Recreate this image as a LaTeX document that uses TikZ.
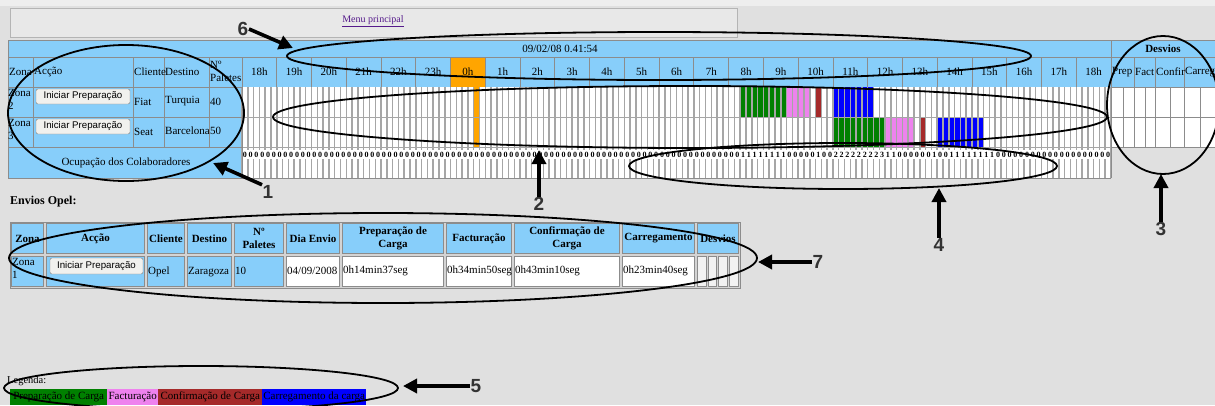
\documentclass[tikz,border=0pt]{standalone}
\usepackage{fontspec}
\setmainfont{Liberation Serif}
\setsansfont{Liberation Sans}
\usetikzlibrary{arrows.meta,shapes.geometric}
\definecolor{pagebg}{HTML}{E0E0E0}
\definecolor{topbg}{HTML}{EEEEEE}
\definecolor{menubg}{HTML}{E8E8E8}
\definecolor{menuline}{HTML}{B4B4B4}
\definecolor{linkpurple}{HTML}{551A8B}
\definecolor{cellblue}{HTML}{87CEFA}
\definecolor{hdrline}{HTML}{8C8C8C}
\definecolor{slotline}{HTML}{A6A6A6}
\definecolor{nowor}{HTML}{FFA500}
\definecolor{prepgreen}{HTML}{008000}
\definecolor{factpink}{HTML}{EE82EE}
\definecolor{confbrown}{HTML}{A52A2A}
\definecolor{carrblue}{HTML}{0000FF}
\definecolor{btnfill}{HTML}{F1F1EE}
\definecolor{btnline}{HTML}{7F7F7F}
\definecolor{numgray}{HTML}{333333}
\definecolor{tblgap}{HTML}{D4D4D4}
\definecolor{desvcell}{HTML}{F2F2F2}
\tikzset{
  txt/.style={inner sep=0pt, font=\fontsize{11}{13}\selectfont},
  txtw/.style={txt, anchor=west},
  hdrbold/.style={inner sep=0pt, font=\fontsize{11}{13}\selectfont\bfseries, align=center},
  btn/.style={draw=btnline, fill=btnfill, rounded corners=2pt, inner sep=0pt, minimum width=94pt, minimum height=15pt, font=\sffamily\fontsize{9.7}{10}\selectfont},
  digit/.style={inner sep=0pt, font=\fontsize{8}{8}\selectfont\bfseries},
  ann/.style={draw=black, line width=1.8pt, ellipse, inner sep=0pt},
  annarrow/.style={line width=3.6pt, -{Triangle[length=14pt,width=14pt]}},
  numlabel/.style={inner sep=0.5pt, text=numgray, font=\sffamily\bfseries\fontsize{19}{19}\selectfont},
  hline/.style={draw=hdrline, line width=0.8pt},
  sline/.style={draw=slotline, line width=1.5pt},
  legbox/.style={inner sep=0pt, minimum height=16pt, font=\fontsize{11}{13}\selectfont, anchor=north west},
  cellbox/.style={draw=hdrline, line width=0.6pt},
}
\begin{document}
\begin{tikzpicture}[x=1pt,y=-1pt]
\useasboundingbox (0,0) rectangle (1215,405);
\fill[topbg] (0,0) rectangle (1215,6);
\fill[pagebg] (0,6) rectangle (1215,405);
% menu
\draw[draw=menuline, fill=menubg, line width=1pt] (10,8) rectangle (737,37);
\node[txt, font=\fontsize{10}{12}\selectfont, text=linkpurple] (menu) at (373,21) {\underline{Menu principal}};
% main table fills
\fill[cellblue] (8,40) rectangle (1215,147);
\fill[cellblue] (8,147) rectangle (1111,178);
\fill[nowor] (450.56,57) rectangle (485.32,87);
\fill[white] (242,87) rectangle (1111,178);
\fill[white] (1111,87) rectangle (1215,147);
\foreach \a/\b/\c/\ya/\yb in {86/93/prepgreen/87/117, 94/97/factpink/87/117, 99/99/confbrown/87/117, 102/108/carrblue/87/117, 102/110/prepgreen/117/147, 111/115/factpink/117/147, 117/117/confbrown/117/147, 120/127/carrblue/117/147, 40/40/nowor/87/147}
  \fill[\c] ({242+\a*5.7933},\ya) rectangle ({242+(\b+1)*5.7933},\yb);
\foreach \i in {0,...,150}
  \draw[sline] ({242+\i*5.7933},87) -- ({242+\i*5.7933},178);
\draw[sline, line width=1pt] (242,117) -- (1111,117);
\draw[sline, line width=1pt] (242,147) -- (1111,147);
\fill[white] (243,150) rectangle (1110,159);
% header lines
\draw[hline] (8,40) -- (1215,40);
\draw[hline] (8,40) -- (8,178) -- (1111,178);
\draw[hline] (8,57) -- (1215,57);
\draw[hline] (8,87) -- (242,87);
\draw[hline] (1111,87) -- (1215,87);
\draw[hline] (8,117) -- (242,117);
\draw[hline] (1111,117) -- (1215,117);
\draw[hline] (8,147) -- (242,147);
\draw[hline] (1111,147) -- (1215,147);
\foreach \x in {33,133,164,209}
  \draw[hline] (\x,57) -- (\x,147);
\draw[hline] (242,57) -- (242,178);
\draw[hline] (1111,178) -- (1111,40);
\foreach \k in {0,...,25}
  \draw[hline] ({242+\k*34.76},57) -- ({242+\k*34.76},87);
\foreach \x in {1134,1155,1184}
  \draw[hline] (\x,57) -- (\x,147);
\foreach \x in {1123,1145,1170,1200}
  \draw[hline] (\x,87) -- (\x,147);
% texts row 1 and 2
\node[txt] (date) at (560,48.5) {09/02/08 0.41:54};
\node[hdrbold] (desv) at (1163,48.5) {Desvios};
\node[txtw] (hzona) at (9,72) {Zona};
\node[txtw] (hacc) at (34,72) {Acção};
\node[txtw] (hcli) at (134,72) {Cliente};
\node[txtw] (hdes) at (165,72) {Destino};
\node[txtw, align=left] (hpal) at (210,71) {Nº\\Paletes};
\foreach \h [count=\k from 0] in {18,19,20,21,22,23,0,1,2,3,4,5,6,7,8,9,10,11,12,13,14,15,16,17,18}
  \node[txt] (hh\k) at ({242+(\k+0.5)*34.76},72) {\h h};
\node[txtw] (dprep) at (1112,72) {Prep};
\node[txtw] (dfact) at (1135,72) {Fact};
\node[txtw] (dconf) at (1156,72) {Confir};
\node[txtw] (dcarr) at (1185,72) {Carreg};
% rows
\node[txt, anchor=north west, align=left] (z2) at (8,89) {Zona\\2};
\node[btn] (b2) at (83,96.5) {Iniciar Preparação};
\node[txtw] (c2) at (134,102) {Fiat};
\node[txtw] (t2) at (165,101.5) {Turquia};
\node[txtw] (p2) at (210,101.5) {40};
\node[txt, anchor=north west, align=left] (z3) at (8,119) {Zona\\3};
\node[btn] (b3) at (83,126.5) {Iniciar Preparação};
\node[txtw] (c3) at (134,132) {Seat};
\node[txtw] (t3) at (165,131) {Barcelona};
\node[txtw] (p3) at (210,131) {50};
\node[txt] (ocup) at (126,163) {Ocupação dos Colaboradores};
\foreach \a/\b/\v in {0/85/0,86/93/1,94/98/0,99/99/1,100/101/0,102/109/2,110/110/3,111/112/1,113/118/0,119/119/1,120/121/0,122/129/1,130/149/0}
  \foreach \i in {\a,...,\b}
    \node[digit] (d\i) at ({242+(\i+0.5)*5.7933},154.5) {\v};
% Envios Opel
\node[txtw, font=\fontsize{12}{14}\selectfont\bfseries] (envios) at (10,202) {Envios Opel:};
\fill[tblgap] (10,222) rectangle (740,288);
\draw[hline] (10,222) rectangle (740,288);
\foreach \xa/\xb in {10/45,45/146,146/186,186/233,233/285,285/341,341/445,445/513,513/621,621/696,696/740}
  \draw[cellbox, fill=cellblue] (\xa+1.5,223.5) rectangle (\xb-1.5,253.5);
\foreach \xa/\xb in {10/45,45/146,146/186,186/233,233/285}
  \draw[cellbox, fill=cellblue] (\xa+1.5,256.5) rectangle (\xb-1.5,286.5);
\foreach \xa/\xb in {285/341,341/445,445/513,513/621,621/696}
  \draw[cellbox, fill=white] (\xa+1.5,256.5) rectangle (\xb-1.5,286.5);
\foreach \i in {0,1,2,3}
  \draw[cellbox, fill=desvcell] ({697.5+\i*10.6},256.5) rectangle ({697.5+(\i+1)*10.6-2},286.5);
\node[hdrbold] (ozona) at (27.5,238.5) {Zona};
\node[hdrbold] (oacc) at (95.5,238.5) {Acção};
\node[hdrbold] (ocli) at (166,238.5) {Cliente};
\node[hdrbold] (odes) at (209.5,238.5) {Destino};
\node[hdrbold] (opal) at (259,238.5) {Nº\\Paletes};
\node[hdrbold] (odia) at (313,238.5) {Dia Envio};
\node[hdrbold] (oprep) at (393,238.5) {Preparação de\\Carga};
\node[hdrbold] (ofact) at (479,238.5) {Facturação};
\node[hdrbold] (oconf) at (567,238.5) {Confirmação de\\Carga};
\node[hdrbold] (ocarr) at (658.5,238.5) {Carregamento};
\node[hdrbold] (odesv) at (718,238.5) {Desvios};
\node[txt, anchor=north west, align=left] (z1) at (12,258) {Zona\\1};
\node[btn, minimum width=93pt, minimum height=16pt] (b1) at (96.5,266) {Iniciar Preparação};
\node[txtw] (vcli) at (148,272) {Opel};
\node[txtw] (vdes) at (188,272) {Zaragoza};
\node[txtw] (vpal) at (235,271) {10};
\node[txtw] (vdia) at (287,271) {04/09/2008};
\node[txtw] (vprep) at (343,271) {0h14min37seg};
\node[txtw] (vfact) at (447,271) {0h34min50seg};
\node[txtw] (vconf) at (515,271) {0h43min10seg};
\node[txtw] (vcarr) at (623,271) {0h23min40seg};
% legend
\node[txtw, font=\fontsize{10.5}{12}\selectfont] (leg) at (7,381) {Legenda:};
\node[legbox, fill=prepgreen, minimum width=97pt] (l1) at (10,389) {Preparação de Carga};
\node[legbox, fill=factpink, minimum width=51pt] (l2) at (107,389) {Facturação};
\node[legbox, fill=confbrown, minimum width=104pt] (l3) at (158,389) {Confirmação de Carga};
\node[legbox, fill=carrblue, minimum width=104pt] (l4) at (262,389) {Carregamento da carga};
% annotations
\node[ann, minimum width=236pt, minimum height=136pt] (e1) at (126,113) {};
\node[ann, minimum width=744pt, minimum height=48pt] (e6) at (659,56) {};
\node[ann, minimum width=834pt, minimum height=62pt] (e2) at (690,117) {};
\node[ann, minimum width=428pt, minimum height=46pt] (e4) at (843,166) {};
\node[ann, minimum width=112pt, minimum height=138pt] (e3) at (1163,105) {};
\node[ann, minimum width=748pt, minimum height=90pt] (e7) at (383,258) {};
\node[ann, minimum width=394pt, minimum height=44pt] (e5) at (201,388) {};
\node[numlabel] (n6) at (243,29) {6};
\node[numlabel] (n1) at (268,192) {1};
\node[numlabel] (n2) at (539,204) {2};
\node[numlabel] (n4) at (939,245) {4};
\node[numlabel] (n3) at (1161,229) {3};
\node[numlabel] (n7) at (818,262) {7};
\node[numlabel] (n5) at (476,386) {5};
\coordinate (t6) at (293,48);
\coordinate (t1) at (213,163);
\coordinate (t2) at (539,150);
\coordinate (t4) at (939,188);
\coordinate (t3) at (1161,174);
\coordinate (t7) at (758,262);
\coordinate (t5) at (403,386);
\draw[annarrow] (n6.east) -- (t6);
\draw[annarrow] (n1.north west) -- (t1);
\draw[annarrow] (n2.north) -- (t2);
\draw[annarrow] (n4.north) -- (t4);
\draw[annarrow] (n3.north) -- (t3);
\draw[annarrow] (n7.west) -- (t7);
\draw[annarrow] (n5.west) -- (t5);
\end{tikzpicture}
\end{document}
